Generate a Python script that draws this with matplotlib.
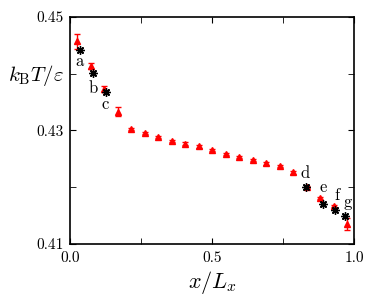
import matplotlib
matplotlib.use("Agg")
import matplotlib.pyplot as plt
from matplotlib.ticker import FixedLocator

plt.rcParams['font.family'] = 'serif'
plt.rcParams['font.serif'] = ['cmr10']
plt.rcParams['mathtext.fontset'] = 'cm'
plt.rcParams['axes.formatter.use_mathtext'] = True

# red triangles: local temperature profile
x_prof = [(i + 0.5) / 21 for i in range(21)]
t_prof = [0.4457, 0.4414, 0.4373, 0.4333, 0.4303, 0.4295, 0.4289, 0.4282,
          0.4277, 0.4272, 0.4266, 0.4259, 0.4253, 0.4248, 0.4242, 0.4237,
          0.4226, 0.4200, 0.4181, 0.4167, 0.4135]
t_err = [0.0013, 0.0005, 0.0005, 0.0008, 0.0002, 0.0002, 0.0002, 0.0002,
         0.0002, 0.0002, 0.0002, 0.0002, 0.0002, 0.0002, 0.0002, 0.0002,
         0.0002, 0.0002, 0.0002, 0.0002, 0.0010]

# black stars: labelled state points
x_pts = [0.0325, 0.079, 0.126, 0.830, 0.892, 0.934, 0.967]
t_pts = [0.4442, 0.4401, 0.4368, 0.4200, 0.4170, 0.4160, 0.4150]
pt_labels = ['a', 'b', 'c', 'd', 'e', 'f', 'g']
lab_dx = [0.0, 0.0, -0.003, -0.003, 0.0, 0.005, 0.011]
lab_dy = [-0.0020, -0.0026, -0.0022, 0.0025, 0.0029, 0.0025, 0.0023]

xticks = [0.0, 0.5, 1.0]
xminor = [0.25, 0.75]
yticks = [0.41, 0.43, 0.45]
yminor = [0.42, 0.44]

fig = plt.figure(figsize=(3.74, 2.96), dpi=100)
ax = fig.add_axes([0.1885, 0.1757, 0.758, 0.767])

ax.errorbar(x_prof, t_prof, yerr=t_err, fmt='^', color='red', ms=4.5,
            capsize=2, elinewidth=1, capthick=1, zorder=2)
ax.plot(x_pts, t_pts, linestyle='none', marker=(8, 2, 0), color='black',
        ms=6, mew=1.0, zorder=3)
for xp, tp, lab, dx, dy in zip(x_pts, t_pts, pt_labels, lab_dx, lab_dy):
    ax.text(xp + dx, tp + dy, lab, fontsize=12, ha='center', va='center')

ax.set_xlim(0, 1)
ax.set_ylim(0.41, 0.45)
ax.xaxis.set_major_locator(FixedLocator(xticks))
ax.xaxis.set_minor_locator(FixedLocator(xminor))
ax.yaxis.set_major_locator(FixedLocator(yticks))
ax.yaxis.set_minor_locator(FixedLocator(yminor))
ax.xaxis.set_major_formatter(plt.FormatStrFormatter('%.1f'))
ax.yaxis.set_major_formatter(plt.FormatStrFormatter('%.2f'))
ax.tick_params(which='both', direction='in', top=True, right=True,
               labelsize=11, pad=5)
ax.tick_params(which='both', length=4)
for s in ax.spines.values():
    s.set_linewidth(1.2)

ax.set_xlabel(r'$x/L_x$', fontsize=16)
ax.xaxis.set_label_coords(0.5, -0.11)
ax.set_ylabel(r'$k_\mathrm{B}T/\varepsilon$', fontsize=15, rotation=0,
              ha='center', va='center')
ax.yaxis.set_label_coords(-0.122, 0.74)

fig.savefig('out.png', dpi=100)
